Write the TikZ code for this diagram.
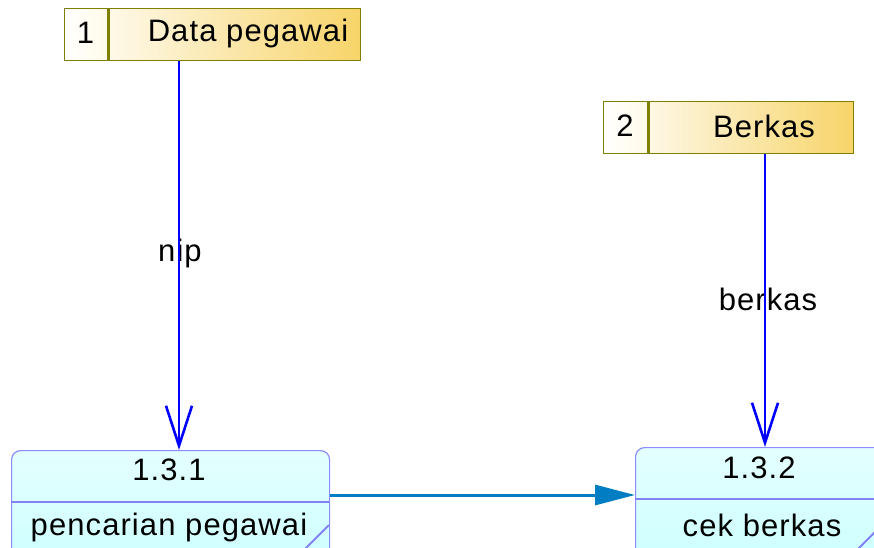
\documentclass[tikz,border=0pt]{standalone}
\usepackage{fontspec}
\setmainfont{Liberation Sans}[LetterSpace=3.5]
\usetikzlibrary{arrows.meta}
\definecolor{olivebd}{RGB}{128,128,0}
\definecolor{gold}{RGB}{247,212,105}
\definecolor{cream}{RGB}{255,250,232}
\definecolor{procbd}{RGB}{140,140,255}
\definecolor{procdiv}{RGB}{130,130,245}
\definecolor{cyanA}{RGB}{228,255,255}
\definecolor{cyanB}{RGB}{200,255,255}
\definecolor{flowblue}{RGB}{0,0,255}
\definecolor{flowteal}{RGB}{0,125,195}
\tikzset{
  x=1pt, y=-1pt,
  txt/.style={font=\fontsize{31}{35}\selectfont, inner sep=0pt},
  store/.style={draw=olivebd, line width=1.2pt, rectangle, anchor=north west,
    left color=white, right color=gold, minimum height=52pt, inner sep=0pt},
  numbox/.style={draw=olivebd, line width=1.2pt, rectangle, anchor=north west,
    left color=white, right color=cream, minimum height=52pt, minimum width=43pt, inner sep=0pt},
  proc/.style={draw=procbd, line width=1.2pt, rectangle, rounded corners=9pt, anchor=north west,
    top color=cyanA, bottom color=cyanB, inner sep=0pt},
  flow/.style={draw=flowblue, line width=2.6pt, -{Straight Barb[length=40pt,width=26pt,line width=2.6pt]}},
  flowb/.style={draw=flowteal, line width=3pt, -{Triangle[length=40pt,width=20pt]}},
}
\begin{document}
\begin{tikzpicture}
\useasboundingbox (0,0) rectangle (874,547);
\clip (0,0) rectangle (874,547);
% data stores
\node[store, minimum width=296pt] (s1) at (64,8) {};
\node[numbox] (n1) at (64,8) {};
\draw[olivebd, line width=3pt] (n1.north east) -- (n1.south east);
\node[txt] (t1) at (85.5,33) {1};
\node[txt] (l1) at (248,33) {Data pegawai};
\node[store, minimum width=250pt] (s2) at (603,101) {};
\node[numbox, minimum width=44pt] (n2) at (603,101) {};
\draw[olivebd, line width=3pt] (n2.north east) -- (n2.south east);
\node[txt] (t2) at (625,126) {2};
\node[txt] (l2) at (764,126) {Berkas};
% processes
\node[proc, minimum width=318pt, minimum height=140pt] (p1) at (11,450) {};
\coordinate (d1a) at (11,502);
\coordinate (d1b) at (329,502);
\draw[procdiv, line width=2pt] (d1a) -- (d1b);
\coordinate (g1a) at (329,525);
\coordinate (g1b) at (305,549);
\draw[procdiv, line width=2pt] (g1a) -- (g1b);
\node[txt] (pn1) at (169,470) {1.3.1};
\node[txt] (pl1) at (169,527) {pencarian pegawai};
\node[proc, minimum width=260pt, minimum height=140pt] (p2) at (635,447) {};
\coordinate (d2a) at (635,499);
\coordinate (d2b) at (895,499);
\draw[procdiv, line width=2pt] (d2a) -- (d2b);
\coordinate (g2a) at (858,549);
\coordinate (g2b) at (878,529);
\draw[procdiv, line width=2pt] (g2a) -- (g2b);
\node[txt] (pn2) at (759,468) {1.3.2};
\node[txt] (pl2) at (762,525) {cek berkas};
% labels
\node[txt] (f1) at (180,253) {nip};
\node[txt] (f2) at (768,299) {berkas};
% flows
\coordinate (x1) at (179,0);
\coordinate (x2) at (765,0);
\coordinate (y3) at (0,495);
\draw[flow] (s1.south -| x1) -- (p1.north -| x1);
\draw[flow] (s2.south -| x2) -- (p2.north -| x2);
\draw[flowb] (p1.east |- y3) -- (p2.west |- y3);
\end{tikzpicture}
\end{document}
